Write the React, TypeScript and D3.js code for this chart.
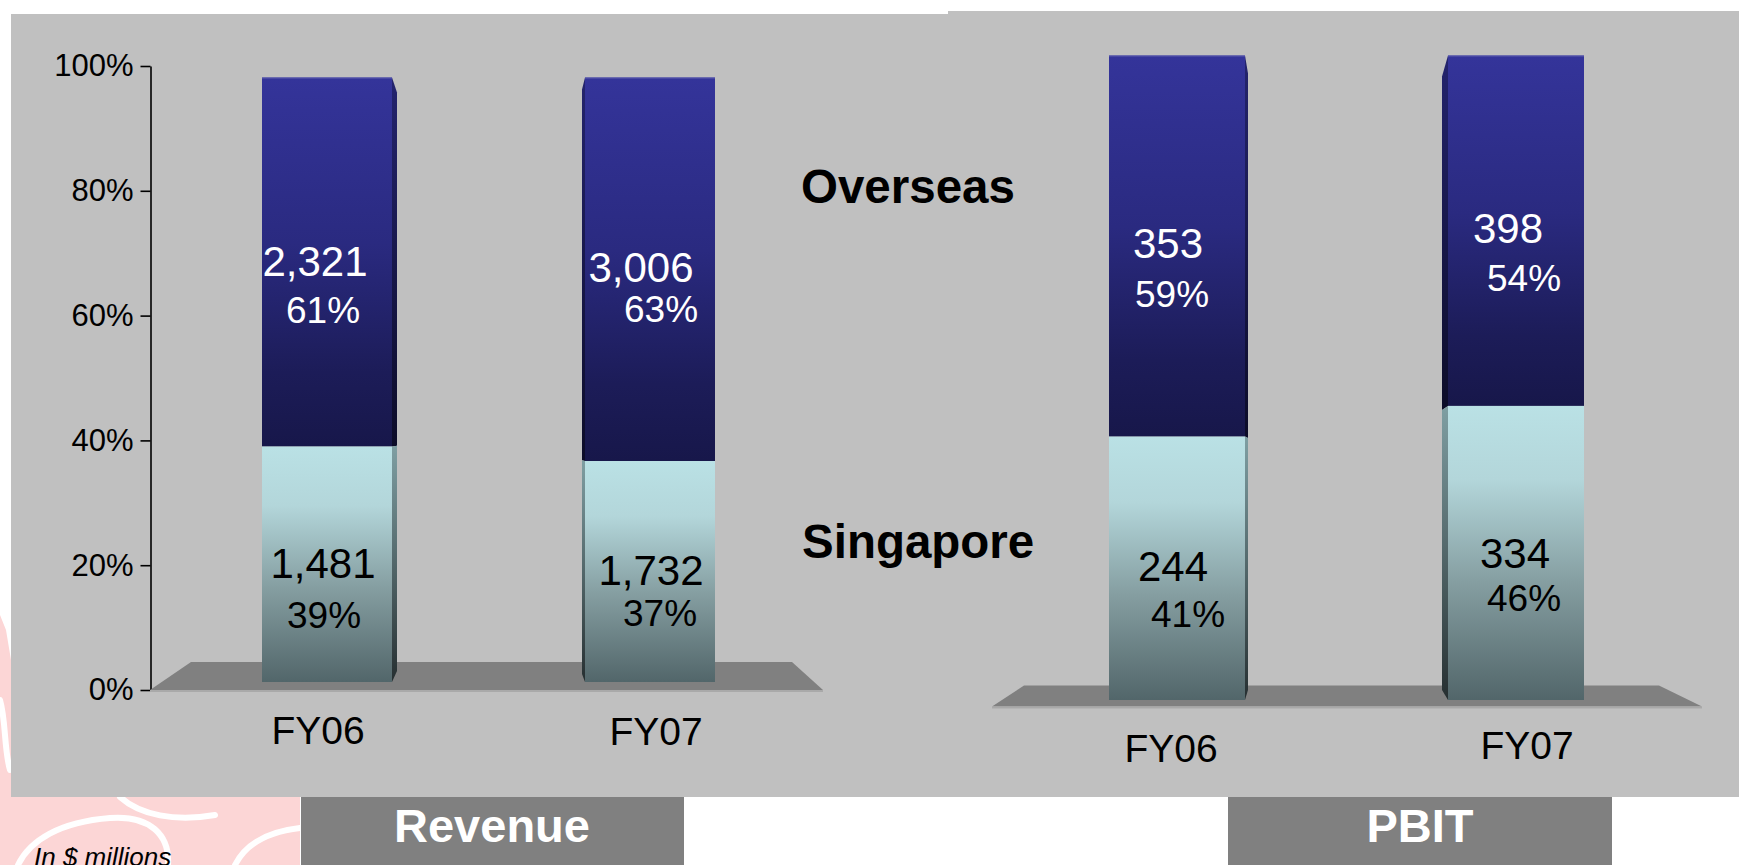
import * as d3 from "d3";
import { useEffect, useRef } from "react";

const categories = ["FY06", "FY07"];
const revenueSingapore = [1481, 1732];
const revenueOverseas = [2321, 3006];
const revenueSingaporePct = [39, 37];
const revenueOverseasPct = [61, 63];
const pbitSingapore = [244, 334];
const pbitOverseas = [353, 398];
const pbitSingaporePct = [41, 46];
const pbitOverseasPct = [59, 54];
const axisTicks = [0, 0.2, 0.4, 0.6, 0.8, 1];
const seriesNames = ["Overseas", "Singapore"];
const panelTitles = ["Revenue", "PBIT"];

const W = 1739;
const H = 865;
const FONT = "'Liberation Sans', Arial, Helvetica, sans-serif";

// layout for the two panels (pixel geometry of the pseudo 3d plot areas)
const panels = [
  {
    id: "rev",
    sing: revenueSingapore,
    over: revenueOverseas,
    singPct: revenueSingaporePct,
    overPct: revenueOverseasPct,
    centers: [327, 650],
    barW: 130,
    base: 682,
    top: 77.5,
    catX: [318, 656],
    catY: [744, 745],
    floor: { fl: 150, fr: 823, bl: 191, br: 792, back: 662, front: 690 },
    sides: [
      { side: "right", d: 5, drop: 15, rise: 11 },
      { side: "left", d: 3, drop: 12, rise: 8 }
    ],
    // [dx, dy] offsets of the labels from bar centre / segment middle
    offsets: [
      { ov: [-12, 14], ovp: [-4, 61], sg: [-4, 14], sgp: [-3, 64] },
      { ov: [-9, 13], ovp: [11, 53], sg: [1, 13], sgp: [10, 54] }
    ]
  },
  {
    id: "pbit",
    sing: pbitSingapore,
    over: pbitOverseas,
    singPct: pbitSingaporePct,
    overPct: pbitOverseasPct,
    centers: [1177, 1516],
    barW: 136,
    base: 700,
    top: 55.5,
    catX: [1171, 1527],
    catY: [762, 759],
    floor: { fl: 992, fr: 1702, bl: 1024, br: 1659, back: 685.5, front: 706.5 },
    sides: [
      { side: "right", d: 3, drop: 18, rise: 10 },
      { side: "left", d: 6, drop: 21, rise: 10 }
    ],
    offsets: [
      { ov: [-9, 12], ovp: [-5, 61], sg: [-4, 13], sgp: [11, 59] },
      { ov: [-8, 12], ovp: [8, 60], sg: [-1, 15], sgp: [8, 58] }
    ]
  }
];

const fmt = d3.format(",");

const Axis = () => {
  const ref = useRef<SVGGElement>(null);
  useEffect(() => {
    const scale = d3.scaleLinear().domain([0, 1]).range([690, 66]);
    const g = d3.select(ref.current);
    g.selectAll("*").remove();
    g.call(
      d3.axisLeft(scale)
        .tickValues(axisTicks)
        .tickFormat(d3.format(".0%"))
        .tickSize(10)
        .tickSizeOuter(0)
        .tickPadding(7) as any
    );
    g.selectAll("text")
      .attr("font-size", 31)
      .attr("font-family", FONT)
      .attr("fill", "#000");
    g.selectAll("line, path").attr("stroke", "#000").attr("stroke-width", 1.6);
  }, []);
  return <g ref={ref} transform="translate(150.5,0)" />;
};

const Panel = ({ p }: { p: any }) => {
  const x = d3.scalePoint().domain(categories).range(p.centers);
  const catScale = d3.scalePoint().domain(categories).range(p.catX);
  const y = d3.scaleLinear().domain([0, 1]).range([p.base, p.top]);
  const f = p.floor;

  return (
    <g>
      <polygon
        points={`${f.fl},${f.front} ${f.bl},${f.back} ${f.br},${f.back} ${f.fr},${f.front}`}
        fill="#808080"
      />
      <line x1={f.fl} x2={f.fr} y1={f.front + 1} y2={f.front + 1} stroke="#a9a9a9" strokeWidth={2} />
      {categories.map((c, i) => {
        const cx = x(c) as number;
        const total = p.sing[i] + p.over[i];
        const ySplit = y(p.sing[i] / total);
        const yTop = y(1);
        const yBase = y(0);
        const x0 = cx - p.barW / 2;
        const s = p.sides[i];
        const edge = s.side === "right" ? x0 + p.barW : x0;
        const back = s.side === "right" ? edge + s.d : edge - s.d;
        const bTop = yTop + s.drop;
        const bBot = yBase - s.rise;
        const backAt = (v: number) => bTop + ((v - yTop) / (yBase - yTop)) * (bBot - bTop);
        const o = p.offsets[i];
        const ovMid = (yTop + ySplit) / 2;
        const sgMid = (ySplit + yBase) / 2;
        return (
          <g key={c}>
            <polygon
              points={`${edge},${yTop} ${back},${bTop} ${back},${backAt(ySplit)} ${edge},${ySplit}`}
              fill="url(#ovSide)"
            />
            <polygon
              points={`${edge},${ySplit} ${back},${backAt(ySplit)} ${back},${bBot} ${edge},${yBase}`}
              fill="url(#sgSide)"
            />
            <rect x={x0} y={yTop} width={p.barW} height={ySplit - yTop} fill="url(#ovFront)" />
            <rect x={x0} y={ySplit} width={p.barW} height={yBase - ySplit} fill="url(#sgFront)" />
            <line x1={x0} x2={x0 + p.barW} y1={yTop + 0.5} y2={yTop + 0.5} stroke="#5c5cae" strokeWidth={1} />
            <text x={cx + o.ov[0]} y={ovMid + o.ov[1]} fill="#fff" fontSize={42} textAnchor="middle">
              {fmt(p.over[i])}
            </text>
            <text x={cx + o.ovp[0]} y={ovMid + o.ovp[1]} fill="#fff" fontSize={37} textAnchor="middle">
              {p.overPct[i]}%
            </text>
            <text x={cx + o.sg[0]} y={sgMid + o.sg[1]} fill="#000" fontSize={42} textAnchor="middle">
              {fmt(p.sing[i])}
            </text>
            <text x={cx + o.sgp[0]} y={sgMid + o.sgp[1]} fill="#000" fontSize={37} textAnchor="middle">
              {p.singPct[i]}%
            </text>
            <text x={catScale(c)} y={p.catY[i]} fill="#000" fontSize={39} textAnchor="middle">
              {c}
            </text>
          </g>
        );
      })}
    </g>
  );
};

export default function App() {
  return (
    <svg
      width={W}
      height={H}
      viewBox={`0 0 ${W} ${H}`}
      style={{ position: "absolute", left: 0, top: 0, display: "block" }}
      fontFamily={FONT}
    >
      <defs>
        <linearGradient id="ovFront" x1="0" y1="0" x2="0" y2="1">
          <stop offset="0" stopColor="#34349a" />
          <stop offset="0.45" stopColor="#2a2a80" />
          <stop offset="0.8" stopColor="#1c1c58" />
          <stop offset="1" stopColor="#17174a" />
        </linearGradient>
        <linearGradient id="sgFront" x1="0" y1="0" x2="0" y2="1">
          <stop offset="0" stopColor="#bae1e5" />
          <stop offset="0.25" stopColor="#b3d6da" />
          <stop offset="0.6" stopColor="#859ea1" />
          <stop offset="1" stopColor="#52666a" />
        </linearGradient>
        <linearGradient id="ovSide" x1="0" y1="0" x2="0" y2="1">
          <stop offset="0" stopColor="#24246e" />
          <stop offset="1" stopColor="#0c0c28" />
        </linearGradient>
        <linearGradient id="sgSide" x1="0" y1="0" x2="0" y2="1">
          <stop offset="0" stopColor="#7f9fa3" />
          <stop offset="1" stopColor="#262f31" />
        </linearGradient>
      </defs>

      <rect x={0} y={0} width={W} height={H} fill="#fff" />

      {/* pink watermark at the bottom left */}
      <g fill="#fcd6d6">
        <path d="M0 615 L6 630 L11 660 L11 797 L300 797 L300 865 L0 865 Z" />
      </g>
      <g fill="none" stroke="#fff" strokeWidth={6} strokeLinecap="round">
        <path d="M18 865 C 30 840, 60 822, 110 818 C 150 815, 170 835, 168 865" />
        <path d="M120 797 C 140 815, 175 822, 215 815" />
        <path d="M235 865 C 245 845, 265 832, 300 828" />
        <path d="M0 700 C 6 720, 4 750, 10 770" />
      </g>

      <rect x={11} y={14} width={937} height={783} fill="#c0c0c0" />
      <rect x={948} y={11} width={W - 948} height={786} fill="#c0c0c0" />

      <Axis />
      {panels.map(p => (
        <Panel key={p.id} p={p} />
      ))}

      <text x={801} y={203} fontSize={47.5} fontWeight="bold" fill="#000">
        {seriesNames[0]}
      </text>
      <text x={802} y={558} fontSize={47.5} fontWeight="bold" fill="#000">
        {seriesNames[1]}
      </text>

      <rect x={301} y={797} width={383} height={68} fill="#808080" />
      <text x={492} y={842} fontSize={47} fontWeight="bold" fill="#fff" textAnchor="middle">
        {panelTitles[0]}
      </text>
      <rect x={1228} y={797} width={384} height={68} fill="#808080" />
      <text x={1420} y={842} fontSize={47} fontWeight="bold" fill="#fff" textAnchor="middle">
        {panelTitles[1]}
      </text>

      <text x={34} y={866} fontSize={26} fontStyle="italic" fill="#000">
        In $ millions
      </text>
    </svg>
  );
}
